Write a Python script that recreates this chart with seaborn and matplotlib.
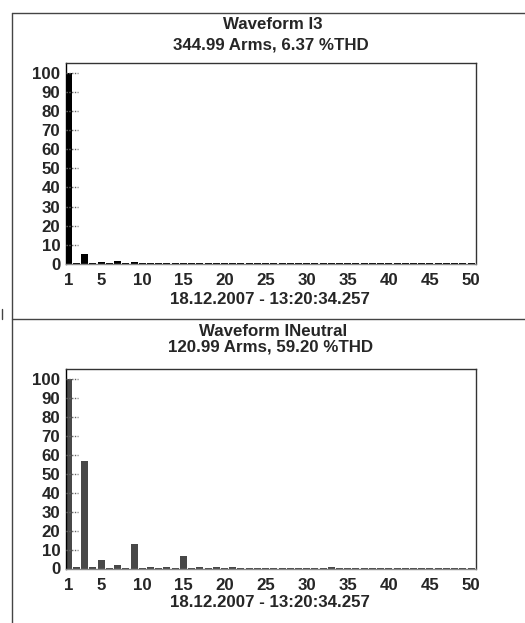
import matplotlib
matplotlib.use("Agg")
import matplotlib.pyplot as plt
import seaborn as sns
import numpy as np
from matplotlib.lines import Line2D

sns.set_theme(style="white")
plt.rcParams['font.family'] = ['Liberation Sans', 'DejaVu Sans']
plt.rcParams['font.weight'] = 'bold'

harmonics = list(range(1, 51))

# Waveform I3 harmonic amplitudes (% of fundamental)
i3_values = [100, 0.3, 5.0, 0.3, 1.3, 0.3, 1.8, 0.3, 1.3, 0.3,
             0.3, 0.3, 0.3, 0.3, 0.7, 0.3, 0.3, 0.3, 0.3, 0.3,
             0.3, 0.3, 0.3, 0.3, 0.3, 0.3, 0.3, 0.3, 0.3, 0.3,
             0.3, 0.3, 0.3, 0.3, 0.3, 0.3, 0.3, 0.3, 0.3, 0.3,
             0.3, 0.3, 0.3, 0.3, 0.3, 0.3, 0.3, 0.3, 0.3, 0.3]

# Waveform INeutral harmonic amplitudes (% of fundamental)
ineutral_values = [100, 0.8, 56.8, 0.8, 4.6, 0.3, 1.8, 0.3, 12.9, 0.3,
                   0.8, 0.3, 0.8, 0.3, 6.6, 0.3, 0.8, 0.3, 0.8, 0.3,
                   0.8, 0.3, 0.3, 0.3, 0.3, 0.3, 0.3, 0.3, 0.3, 0.3,
                   0.3, 0.3, 0.8, 0.3, 0.3, 0.3, 0.3, 0.3, 0.3, 0.3,
                   0.3, 0.3, 0.3, 0.3, 0.3, 0.3, 0.3, 0.3, 0.3, 0.3]

titles = ["Waveform I3\n344.99 Arms, 6.37 %THD",
          "Waveform INeutral\n120.99 Arms, 59.20 %THD"]
timestamp = "18.12.2007 - 13:20:34.257"
xtick_vals = [1, 5, 10, 15, 20, 25, 30, 35, 40, 45, 50]
ytick_vals = [0, 10, 20, 30, 40, 50, 60, 70, 80, 90, 100]

W, H = 525, 623
fig = plt.figure(figsize=(W / 100, H / 100), dpi=100)
fig.patch.set_facecolor('white')

def fy(px):
    return 1 - px / H

panels = [
    dict(vals=i3_values, color='#000000', top=63, bottom=264, t1=24.5, t2=45, date=299),
    dict(vals=ineutral_values, color='#484848', top=369.3, bottom=568.5, t1=331.5, t2=347.5, date=602.5),
]

left, right = 66, 476
fs = 12.2
for p, title in zip(panels, titles):
    ax = fig.add_axes([left / W, fy(p['bottom']), (right - left) / W,
                       (p['bottom'] - p['top']) / H])
    sns.barplot(x=harmonics, y=p['vals'], native_scale=True, width=0.85,
                color=p['color'], saturation=1, ax=ax, linewidth=0)
    ax.set_xlim(0.72, 50.6)
    ax.set_ylim(0, 105)
    ax.set_xticks(xtick_vals)
    ax.set_yticks(ytick_vals)
    ax.set_xticklabels([str(v) for v in xtick_vals], fontsize=fs, fontweight='bold')
    ax.set_yticklabels([str(v) for v in ytick_vals], fontsize=fs, fontweight='bold')
    ax.tick_params(axis='x', direction='out', length=3, width=1, color='black', pad=3.5)
    ax.tick_params(axis='y', length=0, pad=4)
    ax.hlines(ytick_vals[1:], 0, 0.03, transform=ax.get_yaxis_transform(),
              colors='#666666', linestyles=(0, (1, 1)), linewidth=1, zorder=5)
    ax.set_xlabel('')
    ax.set_ylabel('')
    for s in ax.spines.values():
        s.set_color('#333333')
        s.set_linewidth(1)
    ax.spines['left'].set_color('black')
    ax.spines['bottom'].set_color('#888888')
    ax.spines['bottom'].set_linestyle((0, (1, 1)))
    l1, l2 = title.split('\n')
    fig.text(273 / W, fy(p['t1']), l1, ha='center', va='center', fontsize=fs, fontweight='bold')
    fig.text(271 / W, fy(p['t2']), l2, ha='center', va='center', fontsize=fs, fontweight='bold')
    fig.text(270 / W, fy(p['date']), timestamp, ha='center', va='center', fontsize=fs, fontweight='bold')

# panel frame lines of the screenshot
lc = '#444444'
fig.add_artist(Line2D([11.5 / W, 11.5 / W], [fy(13), fy(623)], color=lc, lw=1, transform=fig.transFigure))
fig.add_artist(Line2D([11.5 / W, 1], [fy(13), fy(13)], color=lc, lw=1, transform=fig.transFigure))
fig.add_artist(Line2D([11.5 / W, 1], [fy(319), fy(319)], color=lc, lw=1, transform=fig.transFigure))
fig.add_artist(Line2D([1.5 / W, 1.5 / W], [fy(309), fy(319)], color=lc, lw=1, transform=fig.transFigure))

fig.savefig('out.png', dpi=100, facecolor='white')
